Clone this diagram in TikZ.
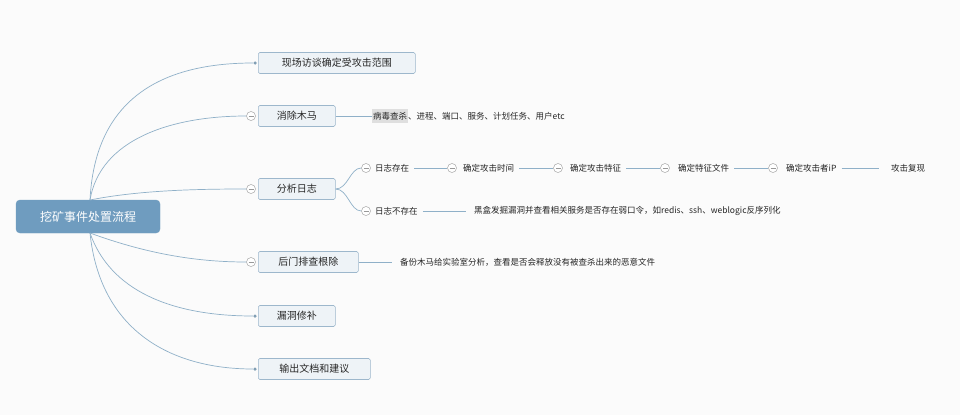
\documentclass[tikz,border=0pt]{standalone}
\usepackage{fontspec}
\setmainfont{Noto Sans CJK SC}
\begin{document}
\begin{tikzpicture}[x=1pt,y=-1pt,
  conn/.style={draw=lineblue,line width=0.7pt},
  topic/.style={draw=boxedge,fill=boxfill,rounded corners=1.5pt,line width=0.6pt,font=\fontsize{10}{12}\selectfont,text=black!85,inner sep=0pt,minimum height=21pt,anchor=west},
  lbl/.style={font=\fontsize{8.5}{10}\selectfont,text=black!85,inner sep=0pt,anchor=west},
  fold/.style={circle,draw=gray!70,fill=white,inner sep=0pt,minimum size=9pt,line width=0.5pt,
    path picture={\draw[gray!80,line width=0.5pt] ([xshift=-2.5pt]path picture bounding box.center) -- ([xshift=2.5pt]path picture bounding box.center);}},
  dot/.style={circle,fill=lineblue!90!black,inner sep=0pt,minimum size=3.5pt}]
\definecolor{lineblue}{HTML}{8FB0C8}
\definecolor{boxedge}{HTML}{9DB7CC}
\definecolor{boxfill}{HTML}{EEF3F7}
\definecolor{rootfill}{HTML}{6F9CBF}
\fill[white!97!gray] (0,0) rectangle (960,415);
\useasboundingbox (0,0) rectangle (960,415);

\node[draw=rootfill,fill=rootfill,rounded corners=4pt,minimum width=144pt,minimum height=33pt,text=white,font=\fontsize{12}{14}\selectfont] (root) at (88,216.5) {挖矿事件处置流程};
\coordinate (rt) at (90,200);
\coordinate (rb) at (90,233);

\node[topic,minimum width=157pt] (t1) at (258,63) {现场访谈确定受攻击范围};
\node[topic,minimum width=77pt] (t2) at (258,116) {消除木马};
\node[topic,minimum width=77pt] (t3) at (258,189) {分析日志};
\node[topic,minimum width=100pt] (t4) at (258,262) {后门排查根除};
\node[topic,minimum width=77pt] (t5) at (258,316) {漏洞修补};
\node[topic,minimum width=112pt] (t6) at (258,369) {输出文档和建议};

\node[dot] (d1) at (255,63) {};
\node[fold] (f2) at (251,116) {};
\node[fold] (f3) at (251,189) {};
\node[fold] (f4) at (251,262) {};
\node[dot] (d5) at (255,316) {};
\node[dot] (d6) at (255,369) {};

\draw[conn] (rt) .. controls (95,100) and (160,63) .. (d1.west);
\draw[conn] (rt) .. controls (100,140) and (170,116) .. (f2.west);
\draw[conn] (rt) .. controls (140,190) and (200,189) .. (f3.west);
\draw[conn] (rb) .. controls (150,255) and (200,262) .. (f4.west);
\draw[conn] (rb) .. controls (110,290) and (170,316) .. (d5.west);
\draw[conn] (rb) .. controls (100,330) and (170,369) .. (d6.west);

% 消除木马 detail
\node[lbl] (m1) at (372,116) {\colorbox{gray!25}{\kern-2pt 病毒查杀\kern-2pt}、进程、端口、服务、计划任务、用户etc};
\draw[conn] (t2.east) -- (m1.west);

% 分析日志 children
\node[fold] (g1) at (366,168) {};
\node[fold] (g2) at (366,211) {};
\draw[conn] (t3.east) .. controls (348,189) and (350,168) .. (g1.west);
\draw[conn] (t3.east) .. controls (348,189) and (350,211) .. (g2.west);
\node[lbl] (l1) at (375,168) {日志存在};
\node[lbl] (l2) at (375,211) {日志不存在};

\node[fold] (h1) at (452,168) {};
\node[lbl] (a1) at (463,168) {确定攻击时间};
\node[fold] (h2) at (558,168) {};
\node[lbl] (a2) at (570,168) {确定攻击特征};
\node[fold] (h3) at (665,168) {};
\node[lbl] (a3) at (678,168) {确定特征文件};
\node[fold] (h4) at (773,168) {};
\node[lbl] (a4) at (786,168) {确定攻击者iP};
\node[lbl] (a5) at (891,168) {攻击复现};
\draw[conn] ([xshift=5pt]l1.east) -- (h1.west);
\draw[conn] ([xshift=5pt]a1.east) -- (h2.west);
\draw[conn] ([xshift=5pt]a2.east) -- (h3.west);
\draw[conn] ([xshift=5pt]a3.east) -- (h4.west);
\draw[conn] ([xshift=5pt]a4.east) -- ([xshift=-12pt]a5.west);

\node[lbl] (b1) at (474,211) {黑盒发掘漏洞并查看相关服务是否存在弱口令，如redis、ssh、weblogic反序列化};
\draw[conn] ([xshift=5pt]l2.east) -- ([xshift=-8pt]b1.west);

% 后门排查根除 detail
\node[lbl] (c1) at (400,262) {备份木马给实验室分析，查看是否会释放没有被查杀出来的恶意文件};
\draw[conn] (t4.east) -- ([xshift=-8pt]c1.west);
\end{tikzpicture}
\end{document}
